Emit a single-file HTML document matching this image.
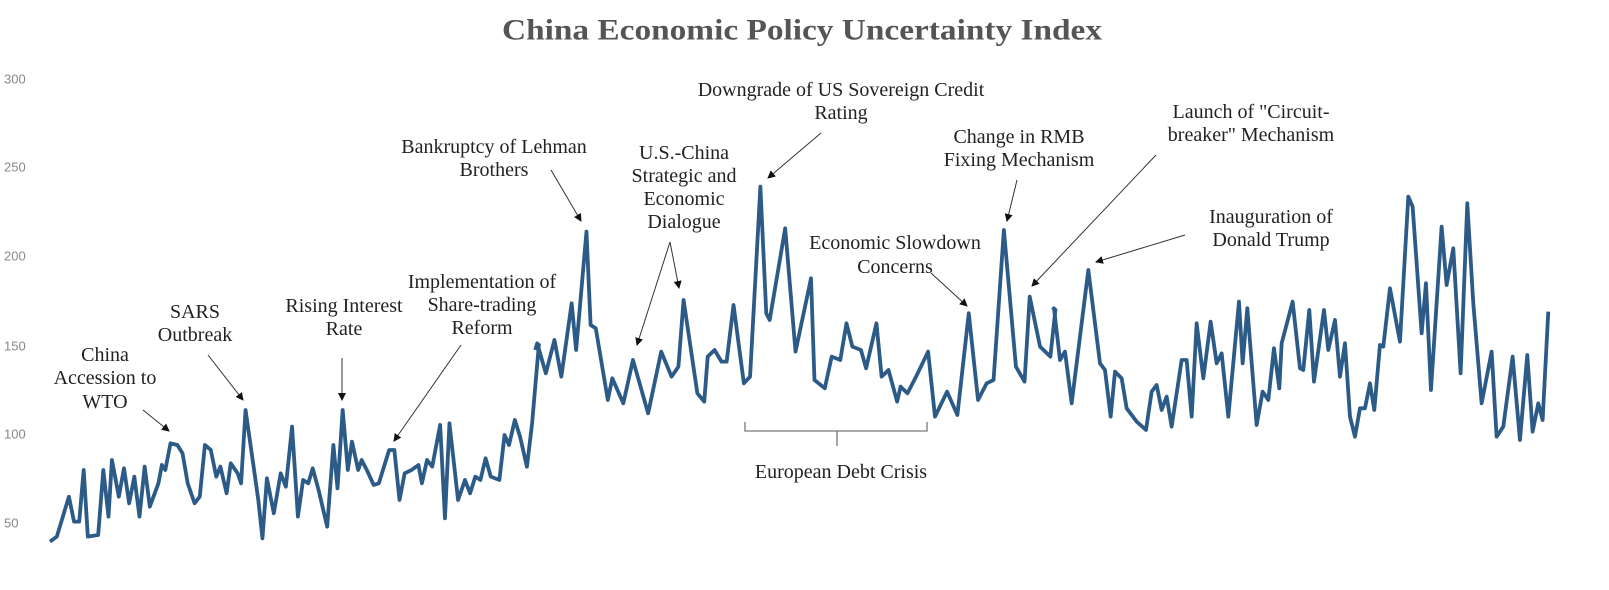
<!DOCTYPE html>
<html><head><meta charset="utf-8"><style>
html,body{margin:0;padding:0;background:#fff;}
svg{display:block;}
text{font-family:"Liberation Serif",serif;fill:#222;}
.a{font-size:20px;text-anchor:middle;dominant-baseline:central;}
.y{font-family:"Liberation Sans",sans-serif;font-size:13px;fill:#888;dominant-baseline:central;}
</style></head><body>
<svg width="1609" height="590" viewBox="0 0 1609 590" xmlns="http://www.w3.org/2000/svg">
<defs><marker id="ah" markerWidth="8" markerHeight="8" refX="7" refY="4" orient="auto" markerUnits="userSpaceOnUse"><path d="M0,0 L8,4 L0,8 z" fill="#111"/></marker></defs>
<text x="802" y="30" text-anchor="middle" dominant-baseline="central" font-size="30" font-weight="bold" style="fill:#555" textLength="600" lengthAdjust="spacingAndGlyphs">China Economic Policy Uncertainty Index</text>
<text class="y" x="4" y="79">300</text>
<text class="y" x="4" y="167">250</text>
<text class="y" x="4" y="256">200</text>
<text class="y" x="4" y="346">150</text>
<text class="y" x="4" y="434">100</text>
<text class="y" x="4" y="523">50</text>
<g fill="none" stroke="#2d5b88" stroke-width="3.8" stroke-linejoin="round">
<g transform="translate(0,250) scale(0.3444,0.3333)">
<polyline vector-effect="non-scaling-stroke" points="145,875 165,860 200,740 215,815 230,815 243,660 255,860 285,855 300,660 315,800 325,630 345,740 360,655 375,760 390,680 405,800 420,650 435,770 460,700 470,645 480,660 495,580 515,585 530,610 545,700 565,760 580,740 595,585 612,600 628,680 640,650 658,730 670,640 690,670 700,700 713,480 735,640 750,750 762,865 775,685 795,790 815,670 830,710 848,530 865,800 880,690 895,700 908,655 925,720 950,830 968,585 980,715 995,480 1010,660 1022,575 1040,660 1050,630 1065,660 1085,705 1100,700 1130,600 1145,600 1160,750 1175,670 1195,660 1215,645 1225,700 1240,630 1255,650 1278,525 1292,805 1305,520 1330,750 1350,690 1365,730 1380,680 1395,690 1410,625 1425,680 1450,690 1465,555 1478,585 1495,510 1510,560 1530,650 1545,520 1565,280"/>
</g>
<g transform="translate(520,160) scale(0.3444,0.3333)">
<polyline vector-effect="non-scaling-stroke" points="44,570 50,550 75,640 100,540 120,650 150,430 163,570 193,215 205,495 220,505 255,720 268,655 300,730 328,600 372,760 410,575 440,650 460,620 475,420 515,700 535,725 545,590 565,570 585,605 600,605 620,435 650,670 668,650 698,80 715,460 725,480 770,205 800,575 845,355 855,660 885,685 905,590 930,600 948,490 965,560 990,570 1005,625 1035,490 1050,650 1070,630 1095,725 1105,680 1125,700 1150,650 1185,575 1205,770 1240,695 1270,765 1303,460 1330,720 1355,670 1375,660 1405,210 1440,620 1465,665 1480,410 1510,560 1540,590 1555,445"/>
</g>
<g transform="translate(1040,170) scale(0.3333)">
<polyline vector-effect="non-scaling-stroke" points="38,420 42,415 60,570 75,545 95,700 145,300 180,580 195,600 212,740 225,605 245,625 260,715 290,755 318,780 335,665 350,645 365,720 380,680 395,770 425,570 440,570 455,740 470,460 490,625 512,455 530,580 545,550 565,740 597,395 608,580 622,415 650,765 668,665 685,690 702,535 718,655 725,520 758,395 780,595 790,600 808,420 822,635 852,420 865,540 885,450 900,620 915,520 930,740 945,800 960,715 975,715 990,640 1003,720 1020,525 1030,530 1050,355 1080,515 1105,80 1118,110 1145,490 1158,340 1173,660 1205,170 1220,345 1240,235 1262,610 1282,100 1300,400 1325,700 1355,545 1370,800 1390,770 1418,560 1440,810 1462,555 1478,785 1495,700 1508,750 1525,425"/>
</g>
</g>
<g stroke="#333" stroke-width="1" fill="none" marker-end="url(#ah)">
<line x1="143" y1="410" x2="169" y2="431"/>
<line x1="208" y1="355" x2="243" y2="400"/>
<line x1="342" y1="358" x2="342" y2="400"/>
<line x1="461" y1="345" x2="394" y2="441"/>
<line x1="551" y1="170" x2="581" y2="221"/>
<line x1="670" y1="242" x2="637" y2="345"/>
<line x1="670" y1="242" x2="679" y2="288"/>
<line x1="821" y1="133" x2="768" y2="178"/>
<line x1="1017" y1="180" x2="1007" y2="221"/>
<line x1="1156" y1="155" x2="1032" y2="286"/>
<line x1="1185" y1="235" x2="1096" y2="262"/>
<line x1="931" y1="273" x2="967" y2="306"/>
</g>
<path d="M745,422 L745,431 L927,431 L927,422 M837,431 L837,446" stroke="#777" stroke-width="1.3" fill="none"/>
<text class="a" x="105" y="355">China</text>
<text class="a" x="105" y="378">Accession to</text>
<text class="a" x="105" y="402">WTO</text>
<text class="a" x="195" y="312">SARS</text>
<text class="a" x="195" y="335">Outbreak</text>
<text class="a" x="344" y="306">Rising Interest</text>
<text class="a" x="344" y="329">Rate</text>
<text class="a" x="482" y="282">Implementation of</text>
<text class="a" x="482" y="305">Share-trading</text>
<text class="a" x="482" y="328">Reform</text>
<text class="a" x="494" y="147">Bankruptcy of Lehman</text>
<text class="a" x="494" y="170">Brothers</text>
<text class="a" x="684" y="153">U.S.-China</text>
<text class="a" x="684" y="176">Strategic and</text>
<text class="a" x="684" y="199">Economic</text>
<text class="a" x="684" y="222">Dialogue</text>
<text class="a" x="841" y="90">Downgrade of US Sovereign Credit</text>
<text class="a" x="841" y="113">Rating</text>
<text class="a" x="1019" y="137">Change in RMB</text>
<text class="a" x="1019" y="160">Fixing Mechanism</text>
<text class="a" x="1251" y="112">Launch of "Circuit-</text>
<text class="a" x="1251" y="135">breaker" Mechanism</text>
<text class="a" x="1271" y="217">Inauguration of</text>
<text class="a" x="1271" y="240">Donald Trump</text>
<text class="a" x="895" y="243">Economic Slowdown</text>
<text class="a" x="895" y="267">Concerns</text>
<text class="a" x="841" y="472">European Debt Crisis</text>
</svg>
</body></html>
